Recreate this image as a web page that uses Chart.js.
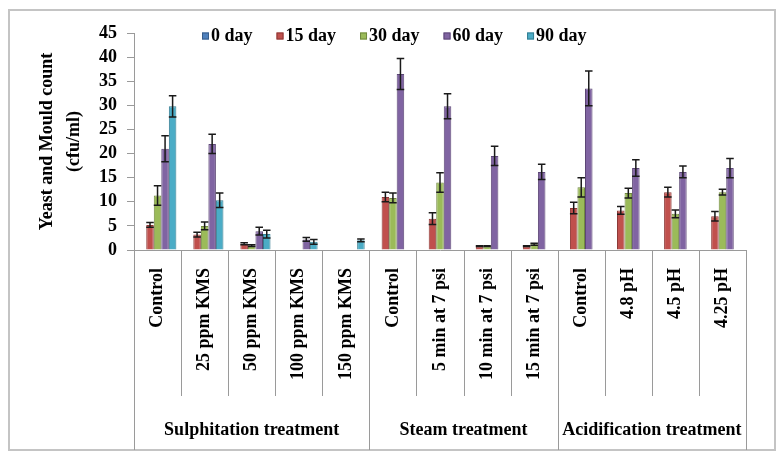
<!DOCTYPE html>
<html><head><meta charset="utf-8">
<script src="https://cdn.jsdelivr.net/npm/chart.js@4.4.1/dist/chart.umd.min.js"></script>
<style>html,body{margin:0;padding:0;background:#fff}#wrap{width:781px;height:460px}</style>
</head><body><div id="wrap"><canvas id="c" width="781" height="460"></canvas></div>
<script>
// ---- data ----
const categories = ['Control','25 ppm KMS','50 ppm KMS','100 ppm KMS','150 ppm KMS',
  'Control','5 min at 7 psi','10 min at 7 psi','15 min at 7 psi',
  'Control','4.8 pH','4.5 pH','4.25 pH'];
const groupNames = ['Sulphitation treatment','Steam treatment','Acidification treatment'];
const groupSizes = [5, 4, 4];
const seriesNames = ['0 day','15 day','30 day','60 day','90 day'];
const day0  = [0,0,0,0,0, 0,0,0,0, 0,0,0,0];
const day15 = [5.2,3.2,1.3,0,0, 11,6.5,0.8,0.8, 8.7,8.2,12,7];
const day30 = [11.3,5,0.9,0,0, 10.8,14,0.8,1.2, 13,11.8,7.5,12];
const day60 = [21,22,3.9,2.2,0, 36.5,29.8,19.5,16.2, 33.5,17,16.2,17];
const day90 = [29.8,10.3,3.3,1.7,2, 0,0,0,0, 0,0,0,0];
const err0  = [0,0,0,0,0, 0,0,0,0, 0,0,0,0];
const err15 = [0.5,0.5,0.2,0,0, 1,1.2,0.1,0.1, 1.2,0.8,1,1];
const err30 = [2,0.8,0.2,0,0, 1,2,0.1,0.2, 2,1,0.8,0.6];
const err60 = [2.7,2,0.8,0.4,0, 3.2,2.6,2,1.6, 3.6,1.7,1.2,2];
const err90 = [2.2,1.5,0.8,0.5,0.3, 0,0,0,0, 0,0,0,0];
const yTicks = [0,5,10,15,20,25,30,35,40,45];
const yTitle = ['Yeast and Mould count','(cfu/ml)'];

// ---- styles ----
const fills   = ['#4F81BD','#C0504D','#9BBB59','#8064A2','#4BACC6'];
const borders = ['#385d8a','#8c3836','#71893f','#5c4776','#357d91'];
const FONT = "'Liberation Serif','Times New Roman',serif";
Chart.defaults.font.family = FONT;

const values = [day0, day15, day30, day60, day90];
const errors = [err0, err15, err30, err60, err90];

const datasets = seriesNames.map((n, i) => ({
  label: n, data: values[i], errors: errors[i],
  backgroundColor: fills[i], borderColor: borders[i], borderWidth: 1,
  categoryPercentage: 0.8, barPercentage: 1.0
}));

const errorBars = {
  id: 'errorBars',
  afterDatasetsDraw(chart) {
    const ctx = chart.ctx, ys = chart.scales.y;
    ctx.save();
    ctx.strokeStyle = '#1a1a1a';
    ctx.lineWidth = 1.5;
    chart.data.datasets.forEach((ds, d) => {
      const meta = chart.getDatasetMeta(d);
      meta.data.forEach((bar, i) => {
        const v = ds.data[i], e = ds.errors[i];
        if (!e) return;
        const x = bar.x, yt = ys.getPixelForValue(v + e), yb = ys.getPixelForValue(Math.max(0, v - e));
        const cw = bar.width * 0.5;
        ctx.beginPath();
        ctx.moveTo(x, yt); ctx.lineTo(x, yb);
        ctx.moveTo(x - cw, yt); ctx.lineTo(x + cw, yt);
        ctx.moveTo(x - cw, yb); ctx.lineTo(x + cw, yb);
        ctx.stroke();
      });
    });
    ctx.restore();
  }
};

const decor = {
  id: 'decor',
  afterDraw(chart) {
    const ctx = chart.ctx, xs = chart.scales.x, ca = chart.chartArea;
    ctx.save();
    // outer frame
    ctx.strokeStyle = '#c4c4c4'; ctx.lineWidth = 2;
    ctx.strokeRect(9, 10, 766, 440);
    // category separators
    const step = xs.getPixelForValue(1) - xs.getPixelForValue(0);
    const bounds = new Set([0]);
    let acc = 0; groupSizes.forEach(s => { acc += s; bounds.add(acc); });
    ctx.strokeStyle = '#9a9a9a'; ctx.lineWidth = 1;
    for (let i = 0; i <= categories.length; i++) {
      const x = Math.round(xs.getPixelForValue(i) - step / 2) + 0.5;
      ctx.beginPath();
      ctx.moveTo(x, ca.bottom);
      ctx.lineTo(x, bounds.has(i) ? 450 : 396);
      ctx.stroke();
    }
    // group labels
    ctx.fillStyle = '#000';
    ctx.font = "bold 18px " + FONT;
    ctx.textAlign = 'center'; ctx.textBaseline = 'middle';
    let start = 0;
    groupSizes.forEach((s, g) => {
      const x0 = xs.getPixelForValue(start) - step / 2;
      const x1 = xs.getPixelForValue(start + s - 1) + step / 2;
      ctx.fillText(groupNames[g], (x0 + x1) / 2, 430);
      start += s;
    });
    // legend
    ctx.font = "bold 18px " + FONT;
    ctx.textAlign = 'left';
    let lx = ca.left + 68;
    const ly = 36;
    chart.data.datasets.forEach((ds) => {
      ctx.fillStyle = ds.backgroundColor;
      ctx.fillRect(lx, ly - 3.5, 7, 7);
      ctx.strokeStyle = ds.borderColor; ctx.lineWidth = 1;
      ctx.strokeRect(lx + 0.5, ly - 3, 6, 6);
      ctx.fillStyle = '#000';
      ctx.fillText(ds.label, lx + 9, ly);
      lx += 9 + ctx.measureText(ds.label).width + 24;
    });
    ctx.restore();
  }
};

new Chart(document.getElementById('c'), {
  type: 'bar',
  data: { labels: categories, datasets },
  options: {
    responsive: false, animation: false, devicePixelRatio: 1,
    layout: { padding: { left: 10, right: 35, top: 33, bottom: 10 } },
    plugins: { legend: { display: false }, tooltip: { enabled: false } },
    scales: {
      x: {
        ticks: { autoSkip: false, minRotation: 90, maxRotation: 90, color: '#000',
                 font: { size: 18, weight: 'bold' }, padding: 18 },
        grid: { display: false, drawTicks: false },
        border: { color: '#9a9a9a', width: 1 },
        afterFit(s) { s.height = 200; }
      },
      y: {
        min: 0, max: 45,
        afterBuildTicks(s) { s.ticks = yTicks.map(v => ({ value: v })); },
        ticks: { autoSkip: false, color: '#000', font: { size: 18, weight: 'bold' }, padding: 10 },
        grid: { drawOnChartArea: false, drawTicks: true, tickLength: 7, color: '#9a9a9a' },
        border: { color: '#9a9a9a', width: 1 },
        title: { display: true, text: yTitle, color: '#000',
                 font: { size: 18, weight: 'bold', lineHeight: 1.5 }, padding: { top: 24, bottom: 0 } },
        afterFit(s) { s.width = 124; }
      }
    }
  },
  plugins: [errorBars, decor]
});
</script></body></html>
